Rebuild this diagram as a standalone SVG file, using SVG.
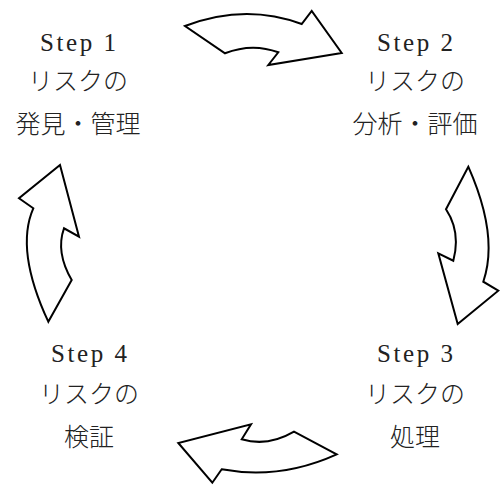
<svg xmlns="http://www.w3.org/2000/svg" width="500" height="486" viewBox="0 0 500 486">
<style>
.arrow{fill:#fff;stroke:#000;stroke-width:2;stroke-linejoin:miter}
.step{font-family:"Liberation Serif","Times New Roman",serif;font-size:25px;fill:#222;text-anchor:middle}
.jp{font-family:"Noto Sans CJK JP",sans-serif;font-size:25px;fill:#222;text-anchor:middle;font-weight:300}
</style>
<rect width="500" height="486" fill="#fff"/>
<g id="connectors">
<path id="arrow-1-2" class="arrow" d="M185,26 Q245,3 301.7,24 L311.7,11 L341.7,53 L268.3,65 L278.3,52.3 Q252,42.6 225,53.3 Z"/>
<path id="arrow-2-3" class="arrow" d="M468.3,166.7 Q499,236 483.3,281.7 L498.3,290.7 L457.7,324 L438.3,253.3 L453.3,260.7 Q461,232 446,209.3 Z"/>
<path id="arrow-3-4" class="arrow" d="M336.7,454.3 L294,431.7 Q268,447 241.7,439.3 L251,424.3 L178.3,443 L212.3,482.7 L221.7,469.3 Q280,480 336.7,454.3 Z"/>
<path id="arrow-4-1" class="arrow" d="M60,165 L79,236.7 L64,228.3 Q55.5,252 71.7,280 L48.3,321.7 Q15,250 33.3,208.3 L19,198.3 Z"/>
</g>
<g id="step1">
<text class="step" x="78" y="51" textLength="76" lengthAdjust="spacing">Step 1</text>
<text class="jp" x="78" y="90">リスクの</text>
<text class="jp" x="78" y="133">発見・管理</text>
</g>
<g id="step2">
<text class="step" x="415" y="51" textLength="76" lengthAdjust="spacing">Step 2</text>
<text class="jp" x="415" y="90">リスクの</text>
<text class="jp" x="415" y="133">分析・評価</text>
</g>
<g id="step3">
<text class="step" x="415" y="362" textLength="76" lengthAdjust="spacing">Step 3</text>
<text class="jp" x="415" y="403">リスクの</text>
<text class="jp" x="415" y="446">処理</text>
</g>
<g id="step4">
<text class="step" x="89" y="362" textLength="76" lengthAdjust="spacing">Step 4</text>
<text class="jp" x="89" y="403">リスクの</text>
<text class="jp" x="89" y="446">検証</text>
</g>
</svg>
